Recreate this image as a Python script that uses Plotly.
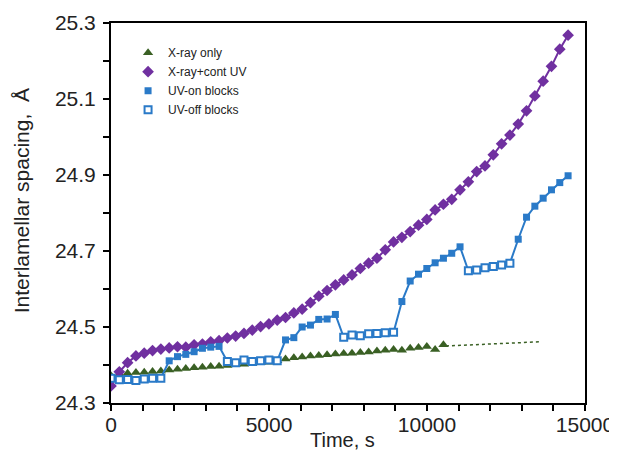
import plotly.graph_objects as go

# Time points (s) shared by all series
time_s = [0, 263, 526, 789, 1052, 1315, 1578, 1841, 2104, 2367,
          2630, 2893, 3156, 3419, 3682, 3945, 4208, 4471, 4734, 4997,
          5260, 5523, 5786, 6049, 6312, 6575, 6838, 7101, 7364, 7627,
          7890, 8153, 8416, 8679, 8942, 9205, 9468, 9731, 9994, 10257,
          10520, 10783, 11046, 11309, 11572, 11835, 12098, 12361, 12624, 12887,
          13150, 13413, 13676, 13939, 14202, 14465]

# X-ray only (first 41 time points)
xray_only = [24.372, 24.376, 24.378, 24.380, 24.381, 24.383, 24.384, 24.387, 24.389, 24.391,
             24.393, 24.394, 24.396, 24.397, 24.399, 24.401, 24.402, 24.404, 24.406, 24.407,
             24.411, 24.416, 24.419, 24.421, 24.424, 24.425, 24.427, 24.429, 24.430, 24.431,
             24.433, 24.434, 24.437, 24.439, 24.441, 24.439, 24.444, 24.446, 24.449, 24.441,
             24.453]

# dotted trend extension of X-ray only
trend_t = [10600, 13550]
trend_v = [24.450, 24.461]

# X-ray + continuous UV
xray_cont_uv = [24.345, 24.382, 24.406, 24.424, 24.431, 24.438, 24.442, 24.445, 24.448, 24.447,
                24.453, 24.455, 24.461, 24.464, 24.471, 24.476, 24.483, 24.492, 24.501, 24.508,
                24.518, 24.525, 24.537, 24.547, 24.564, 24.581, 24.596, 24.611, 24.624, 24.637,
                24.654, 24.668, 24.681, 24.703, 24.724, 24.736, 24.751, 24.768, 24.783, 24.808,
                24.823, 24.836, 24.861, 24.882, 24.909, 24.924, 24.953, 24.982, 25.005, 25.034,
                25.069, 25.108, 25.147, 25.186, 25.231, 25.268]

# UV blocks series and on/off state per point
uv_blocks = [24.365, 24.361, 24.362, 24.359, 24.363, 24.365, 24.365,
             24.411, 24.422, 24.428, 24.435, 24.444, 24.447, 24.449,
             24.409, 24.406, 24.413, 24.409, 24.411, 24.413, 24.411,
             24.466, 24.472, 24.500, 24.505, 24.520, 24.521, 24.533,
             24.473, 24.479, 24.477, 24.482, 24.483, 24.485, 24.486,
             24.567, 24.621, 24.639, 24.654, 24.669, 24.681, 24.694, 24.711,
             24.648, 24.650, 24.656, 24.659, 24.663, 24.668,
             24.731, 24.789, 24.818, 24.839, 24.861, 24.880, 24.898]
uv_on = [0] * 7 + [1] * 7 + [0] * 7 + [1] * 7 + [0] * 7 + [1] * 8 + [0] * 6 + [1] * 7

x_title = "Time, s"
y_title = "Interlamellar spacing,  Å"

GREEN = "#3a6024"
PURPLE = "#7030a0"
BLUE = "#2a7ac8"
FONT = "Liberation Sans, Arial, sans-serif"

on_t = [t for t, s in zip(time_s, uv_on) if s]
on_v = [v for v, s in zip(uv_blocks, uv_on) if s]
off_t = [t for t, s in zip(time_s, uv_on) if not s]
off_v = [v for v, s in zip(uv_blocks, uv_on) if not s]

fig = go.Figure()

fig.add_trace(go.Scatter(x=trend_t, y=trend_v, mode="lines",
                         line=dict(color=GREEN, width=1.5, dash="dot"),
                         showlegend=False, hoverinfo="skip"))
fig.add_trace(go.Scatter(x=time_s[:len(xray_only)], y=xray_only, mode="markers",
                         name="X-ray only",
                         marker=dict(symbol="triangle-up", size=9, color=GREEN)))
fig.add_trace(go.Scatter(x=time_s, y=xray_cont_uv, mode="lines", line=dict(color=PURPLE, width=2),
                         showlegend=False, hoverinfo="skip"))
fig.add_trace(go.Scatter(x=time_s, y=xray_cont_uv, mode="markers", name="X-ray+cont UV",
                         marker=dict(symbol="diamond", size=9, color=PURPLE)))
fig.add_trace(go.Scatter(x=time_s, y=uv_blocks, mode="lines", line=dict(color=BLUE, width=2),
                         showlegend=False, hoverinfo="skip"))
fig.add_trace(go.Scatter(x=on_t, y=on_v, mode="markers", name="UV-on blocks",
                         marker=dict(symbol="square", size=7, color=BLUE)))
fig.add_trace(go.Scatter(x=off_t, y=off_v, mode="markers", name="UV-off blocks",
                         marker=dict(symbol="square", size=7, color="white",
                                     line=dict(color=BLUE, width=2))))

axis_common = dict(showline=True, linecolor="black", linewidth=2, mirror=True,
                   ticks="outside", tickcolor="black", tickwidth=2, ticklen=6,
                   showgrid=False, zeroline=False, automargin=False,
                   tickfont=dict(family=FONT, size=21, color="#222"))

fig.update_xaxes(range=[0, 15000], tick0=0, dtick=5000, tickformat="d",
                 ticklabelstandoff=-4,
                 minor=dict(dtick=1000, ticks="outside", ticklen=6, tickcolor="black", tickwidth=2),
                 **axis_common)
fig.update_yaxes(range=[24.3, 25.3], tick0=24.3, dtick=0.2, tickformat=".1f",
                 ticklabelstandoff=3,
                 minor=dict(dtick=0.1, ticks="outside", ticklen=6, tickcolor="black", tickwidth=2),
                 **axis_common)

fig.add_annotation(text=x_title, xref="paper", yref="paper", x=0.489, y=-0.097,
                   xanchor="center", yanchor="middle", showarrow=False,
                   font=dict(family=FONT, size=20, color="#222"))
fig.add_annotation(text=y_title, xref="paper", yref="paper", x=-0.188, y=0.533,
                   xanchor="center", yanchor="middle", showarrow=False, textangle=-90,
                   font=dict(family=FONT, size=21, color="#222"))

# page has an 8px body margin, so the figure is shifted by (8, 8)
fig.update_layout(
    width=609, height=449,
    margin=dict(l=103, r=32, t=15, b=54),
    plot_bgcolor="white", paper_bgcolor="white",
    legend=dict(x=0.036, y=0.960, xanchor="left", yanchor="top",
                bgcolor="rgba(0,0,0,0)",
                font=dict(family=FONT, size=12, color="#222")),
)

fig.write_html("out.html")
